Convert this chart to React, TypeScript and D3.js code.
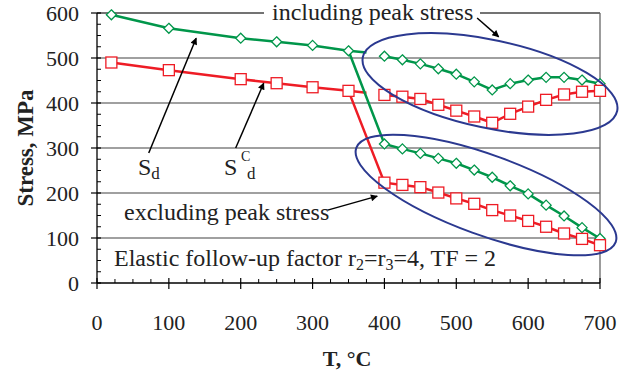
import React from "react";
import * as d3 from "d3";

const W = 641, H = 374;
const tempsLow = [20, 100, 200, 250, 300, 350];
const sdLow = [596, 566, 544, 536, 528, 516];
const scdLow = [490, 473, 453, 444, 435, 427];
const contT = 375;
const sdCont = 512;
const scdCont = 423;
const tempsHigh = [400, 425, 450, 475, 500, 525, 550, 575, 600, 625, 650, 675, 700];
const sdIncl = [504, 496, 487, 476, 464, 447, 429, 443, 451, 457, 457, 451, 443];
const scdIncl = [418, 414, 409, 396, 383, 370, 356, 376, 392, 407, 419, 425, 427];
const sdExcl = [309, 298, 288, 277, 266, 251, 235, 216, 198, 173, 149, 123, 99];
const scdExcl = [223, 218, 213, 201, 188, 176, 162, 150, 138, 125, 110, 98, 84];
const xTicks = [0, 100, 200, 300, 400, 500, 600, 700];
const yTicks = [0, 100, 200, 300, 400, 500, 600];

const GREEN = "#00964a";
const RED = "#ee1c25";
const BLUE = "#2b3990";
const FONT = "'Liberation Serif', 'Times New Roman', serif";

export default function App() {
  const x = d3.scaleLinear().domain([0, 700]).range([97, 600]);
  const y = d3.scaleLinear().domain([0, 600]).range([283, 13]);
  const line = d3.line<[number, number]>().x(d => x(d[0])).y(d => y(d[1]));
  const zip = (a: number[], b: number[]) => a.map((t, i) => [t, b[i]] as [number, number]);

  const greenA = [...zip(tempsLow, sdLow), [contT, sdCont] as [number, number]];
  const redA = [...zip(tempsLow, scdLow), [contT, scdCont] as [number, number]];
  const greenInc = zip(tempsHigh, sdIncl);
  const redInc = zip(tempsHigh, scdIncl);
  const greenExc = [[350, 516] as [number, number], ...zip(tempsHigh, sdExcl)];
  const redExc = [[350, 427] as [number, number], ...zip(tempsHigh, scdExcl)];

  const minor = d3.range(0, 701, 25).filter(v => v % 100 !== 0);
  const minorY = d3.range(0, 601, 25).filter(v => v % 100 !== 0);

  const diamond = (t: number, v: number, k: string) => {
    const cx = x(t), cy = y(v), r = 5;
    return <path key={k} d={`M${cx},${cy - r}L${cx + r},${cy}L${cx},${cy + r}L${cx - r},${cy}Z`} fill="white" stroke={GREEN} strokeWidth={1.3} />;
  };
  const square = (t: number, v: number, k: string) => {
    const s = 11;
    return <rect key={k} x={x(t) - s / 2} y={y(v) - s / 2} width={s} height={s} fill="white" stroke={RED} strokeWidth={1.3} />;
  };

  const arrows: [number, number, number, number][] = [
    [72, 289, 138, 544],
    [193, 300, 232, 444],
    [529, 589, 559, 547],
    [321, 162, 390, 193],
  ];

  return (
    <svg width={W} height={H} style={{ position: "absolute", left: 0, top: 0, background: "white" }} fontFamily={FONT}>
      <defs>
        <marker id="ah" viewBox="0 0 10 10" refX="9" refY="5" markerWidth="9" markerHeight="7" orient="auto" markerUnits="userSpaceOnUse">
          <path d="M0,0L10,5L0,10Z" fill="black" />
        </marker>
      </defs>
      {/* gridlines */}
      {[100, 200, 300, 400, 500].map(v => (
        <line key={v} x1={x(0)} x2={x(700)} y1={y(v)} y2={y(v)} stroke="#808080" strokeWidth={1.3} />
      ))}
      <line x1={x(0)} x2={x(700)} y1={y(600)} y2={y(600)} stroke="#444" strokeWidth={1.3} />
      <line x1={x(700)} x2={x(700)} y1={y(600)} y2={y(0)} stroke="#666" strokeWidth={1.3} />
      {/* axes */}
      <line x1={x(0)} x2={x(700)} y1={y(0)} y2={y(0)} stroke="black" strokeWidth={1.3} />
      <line x1={x(0)} x2={x(0)} y1={y(0)} y2={y(600)} stroke="black" strokeWidth={1.3} />
      {xTicks.map(t => (
        <g key={t}>
          <line x1={x(t)} x2={x(t)} y1={y(0) - 5} y2={y(0) + 6} stroke="black" strokeWidth={1.2} />
          <text x={x(t)} y={330} textAnchor="middle" fontSize={22} fill="#222">{t}</text>
        </g>
      ))}
      {minor.map(t => (
        <line key={"mx" + t} x1={x(t)} x2={x(t)} y1={y(0) - 4} y2={y(0)} stroke="black" strokeWidth={1} />
      ))}
      {yTicks.map(v => (
        <g key={v}>
          <line x1={x(0) - 6} x2={x(0) + 4} y1={y(v)} y2={y(v)} stroke="black" strokeWidth={1.2} />
          <text x={79} y={y(v) + 7.5} textAnchor="end" fontSize={22} fill="#222">{v}</text>
        </g>
      ))}
      {minorY.map(v => (
        <line key={"my" + v} x1={x(0)} x2={x(0) + 4} y1={y(v)} y2={y(v)} stroke="black" strokeWidth={1} />
      ))}
      <text x={347} y={366} textAnchor="middle" fontSize={22} fontWeight="bold" fill="#222">T, °C</text>
      <text transform="translate(33,148) rotate(-90)" textAnchor="middle" fontSize={23} fontWeight="bold" fill="#222">Stress, MPa</text>

      {/* series */}
      <path d={line(greenA) || ""} fill="none" stroke={GREEN} strokeWidth={2.5} />
      <path d={line(redA) || ""} fill="none" stroke={RED} strokeWidth={2.5} />
      <path d={line(greenExc) || ""} fill="none" stroke={GREEN} strokeWidth={2.5} />
      <path d={line(redExc) || ""} fill="none" stroke={RED} strokeWidth={2.5} />
      <path d={line(greenInc) || ""} fill="none" stroke={GREEN} strokeWidth={2.5} />
      <path d={line(redInc) || ""} fill="none" stroke={RED} strokeWidth={2.5} />
      {tempsLow.map((t, i) => diamond(t, sdLow[i], "gl" + i))}
      {tempsLow.map((t, i) => square(t, scdLow[i], "rl" + i))}
      {tempsHigh.map((t, i) => diamond(t, sdIncl[i], "gi" + i))}
      {tempsHigh.map((t, i) => square(t, scdIncl[i], "ri" + i))}
      {tempsHigh.map((t, i) => diamond(t, sdExcl[i], "ge" + i))}
      {tempsHigh.map((t, i) => square(t, scdExcl[i], "re" + i))}

      {/* ellipses */}
      <ellipse cx={490} cy={84} rx={130} ry={44} transform="rotate(12 490 84)" fill="none" stroke={BLUE} strokeWidth={2} />
      <ellipse cx={486} cy={195} rx={138} ry={40} transform="rotate(20 486 195)" fill="none" stroke={BLUE} strokeWidth={2} />

      {/* annotations */}
      <rect x={264} y={0} width={216} height={27} fill="white" />
      <text x={272} y={20} fontSize={24} fill="#222">including peak stress</text>
      <text x={124} y={220} fontSize={24} fill="#222">excluding peak stress</text>
      <text x={114} y={266} fontSize={24} fill="#222">
        Elastic follow-up factor r<tspan fontSize={16} dy={4}>2</tspan><tspan dy={-4}>=r</tspan><tspan fontSize={16} dy={4}>3</tspan><tspan dy={-4}>=4, TF = 2</tspan>
      </text>
      <text x={138} y={175} fontSize={24} fill="#222">S<tspan fontSize={17} dy={4}>d</tspan></text>
      <text x={224} y={175} fontSize={24} fill="#222">S</text>
      <text x={241} y={161} fontSize={14} fill="#222">C</text>
      <text x={247} y={179} fontSize={17} fill="#222">d</text>
      {arrows.map((a, i) => (
        <line key={"a" + i} x1={x(a[0])} y1={y(a[1])} x2={x(a[2])} y2={y(a[3])} stroke="black" strokeWidth={1.5} markerEnd="url(#ah)" />
      ))}
    </svg>
  );
}
